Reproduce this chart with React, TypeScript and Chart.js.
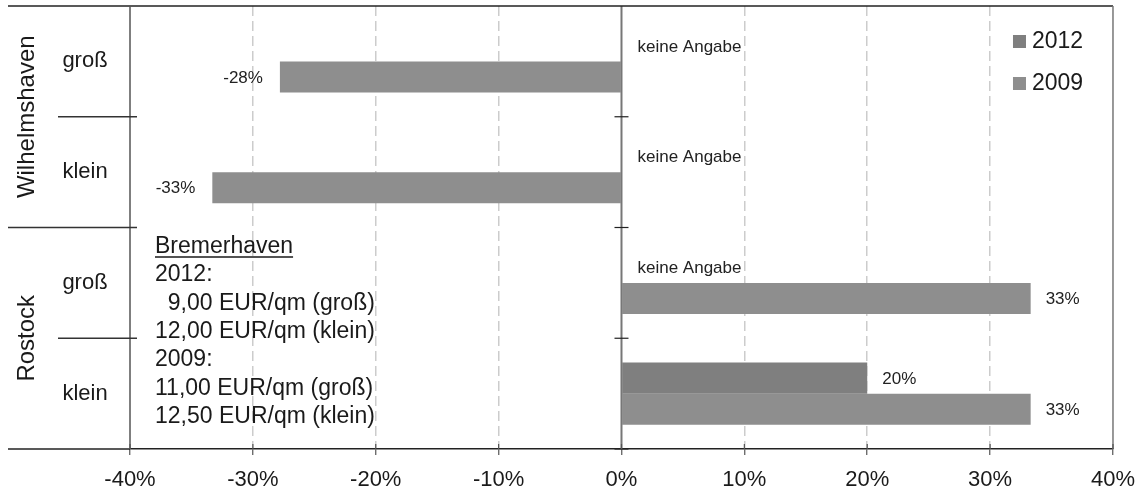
import { useEffect, useRef } from 'react';
import { Chart, registerables } from 'chart.js';

Chart.register(...registerables);

// ---- data ----
const categories = ['groß', 'klein', 'groß', 'klein'];
const groups = ['Wilhelmshaven', 'Rostock'];
const groupSizes = [2, 2];
const seriesLabels = ['2012', '2009'];
const values2012: (number | null)[] = [null, null, null, 20];
const values2009: (number | null)[] = [-27.8, -33.3, 33.3, 33.3];
const xTicks = [-40, -30, -20, -10, 0, 10, 20, 30, 40];
const missingLabel = 'keine Angabe';
const noteTitle = 'Bremerhaven';
const noteLines = [
  '2012:',
  '\u20079,00 EUR/qm (groß)',
  '12,00 EUR/qm (klein)',
  '2009:',
  '11,00 EUR/qm (groß)',
  '12,50 EUR/qm (klein)',
];
const seriesColors = ['#7f7f7f', '#8e8e8e'];

const FONT = '"Liberation Sans", Arial, sans-serif';

function seg(ctx: CanvasRenderingContext2D, x1: number, y1: number, x2: number, y2: number) {
  ctx.beginPath();
  ctx.moveTo(x1, y1);
  ctx.lineTo(x2, y2);
  ctx.stroke();
}

const decorPlugin = {
  id: 'decor',
  afterDatasetsDraw(chart: any) {
    const { ctx, chartArea: a, scales } = chart;
    const x = scales.x;
    const y = scales.y;
    ctx.save();
    // zero axis line
    const x0 = x.getPixelForValue(0);
    ctx.strokeStyle = '#777';
    ctx.lineWidth = 2;
    seg(ctx, x0, a.top, x0, a.bottom);
    const step = y.getPixelForValue(1) - y.getPixelForValue(0);
    ctx.strokeStyle = '#222';
    ctx.lineWidth = 1.2;
    for (let i = 1; i <= categories.length; i++) {
      const by = y.getPixelForValue(i) - step / 2;
      seg(ctx, x0 - 7, by, x0 + 7, by);
    }

    // data labels
    const meta12 = chart.getDatasetMeta(0);
    const meta09 = chart.getDatasetMeta(1);
    ctx.font = `17px ${FONT}`;
    ctx.fillStyle = '#222';
    ctx.textBaseline = 'middle';
    const drawVal = (el: any, v: number | null) => {
      if (v === null || v === undefined) return;
      const txt = Math.round(v) + '%';
      if (v >= 0) {
        ctx.textAlign = 'left';
        ctx.fillText(txt, el.x + 15, el.y + 1);
      } else {
        ctx.textAlign = 'right';
        ctx.fillText(txt, el.x - 17, el.y + 1);
      }
    };
    for (let i = 0; i < categories.length; i++) {
      const el09 = meta09.data[i];
      drawVal(el09, values2009[i]);
      const v12 = values2012[i];
      if (v12 === null) {
        const cy = el09.y - el09.height;
        ctx.textAlign = 'left';
        ctx.fillText(missingLabel, x0 + 16, cy + 1);
      } else {
        drawVal(meta12.data[i], v12);
      }
    }
    ctx.restore();
  },
  afterDraw(chart: any) {
    const { ctx, chartArea: a, scales } = chart;
    const y = scales.y;
    const x = scales.x;
    ctx.save();
    const step = y.getPixelForValue(1) - y.getPixelForValue(0);
    // frame
    ctx.lineWidth = 1.5;
    ctx.strokeStyle = '#222';
    seg(ctx, 8, a.top, a.right, a.top);
    seg(ctx, 8, a.bottom, a.left, a.bottom);
    ctx.strokeStyle = '#777';
    seg(ctx, a.right, a.top, a.right, a.bottom);
    ctx.strokeStyle = '#555';
    seg(ctx, a.left, a.top, a.left, a.bottom);

    // x tick marks crossing the axis
    ctx.strokeStyle = '#555';
    ctx.lineWidth = 1.2;
    xTicks.forEach((v) => {
      const px = x.getPixelForValue(v);
      seg(ctx, px, a.bottom - 5, px, a.bottom);
    });

    // category separators
    ctx.strokeStyle = '#333';
    ctx.lineWidth = 1.5;
    let groupStart = 0;
    const groupBounds = new Set<number>();
    groupSizes.forEach((s) => {
      groupStart += s;
      groupBounds.add(groupStart);
    });
    for (let i = 1; i < categories.length; i++) {
      const by = y.getPixelForValue(i) - step / 2;
      const x1 = groupBounds.has(i) ? 8 : 58;
      seg(ctx, x1, by, a.left + 7, by);
    }

    // category labels
    ctx.fillStyle = '#1a1a1a';
    ctx.font = `22px ${FONT}`;
    ctx.textAlign = 'center';
    ctx.textBaseline = 'middle';
    categories.forEach((c, i) => {
      ctx.fillText(c, 85, y.getPixelForValue(i));
    });
    // group labels
    ctx.font = `24px ${FONT}`;
    let start = 0;
    groups.forEach((g, gi) => {
      const first = y.getPixelForValue(start) - step / 2;
      const last = y.getPixelForValue(start + groupSizes[gi] - 1) + step / 2;
      const cy = (first + last) / 2;
      ctx.save();
      ctx.translate(27, cy);
      ctx.rotate(-Math.PI / 2);
      ctx.fillText(g, 0, 0);
      ctx.restore();
      start += groupSizes[gi];
    });

    // note text block
    ctx.font = `23px ${FONT}`;
    ctx.textAlign = 'left';
    ctx.textBaseline = 'alphabetic';
    const nx = a.left + 25;
    let by = 253;
    ctx.fillText(noteTitle, nx, by);
    const w = ctx.measureText(noteTitle).width;
    ctx.strokeStyle = '#1a1a1a';
    ctx.lineWidth = 1.3;
    seg(ctx, nx, by + 4, nx + w, by + 4);
    noteLines.forEach((l) => {
      by += 28.3;
      ctx.fillText(l, nx, by);
    });

    // legend
    ctx.font = `23px ${FONT}`;
    ctx.textBaseline = 'middle';
    const lx = a.right - 100;
    chart.data.datasets.forEach((ds: any, i: number) => {
      const ly = 41 + i * 42;
      ctx.fillStyle = ds.backgroundColor;
      ctx.fillRect(lx, ly - 6, 13, 13);
      ctx.fillStyle = '#1a1a1a';
      ctx.fillText(ds.label, lx + 19, ly + 1);
    });
    ctx.restore();
  },
};

export default function App() {
  const ref = useRef<HTMLCanvasElement | null>(null);
  useEffect(() => {
    document.body.style.margin = '0';
    const canvas = ref.current;
    if (!canvas) return;
    const chart = new Chart(canvas, {
      type: 'bar',
      data: {
        labels: categories,
        datasets: [
          { label: seriesLabels[0], data: values2012, backgroundColor: seriesColors[0] },
          { label: seriesLabels[1], data: values2009, backgroundColor: seriesColors[1] },
        ],
      },
      options: {
        indexAxis: 'y',
        responsive: false,
        animation: false,
        devicePixelRatio: 1,
        layout: { padding: { left: 130, right: 34, top: 6, bottom: 0 } },
        datasets: { bar: { categoryPercentage: 0.56, barPercentage: 1 } },
        plugins: { legend: { display: false }, tooltip: { enabled: false } },
        scales: {
          y: { type: 'category', display: false, offset: true },
          x: {
            type: 'linear',
            min: -40,
            max: 40,
            afterBuildTicks: (s: any) => {
              s.ticks = xTicks.map((v) => ({ value: v }));
            },
            afterFit: (s: any) => {
              s.height = 44;
            },
            ticks: {
              callback: (v: any) => v + '%',
              font: { size: 22, family: FONT },
              color: '#1a1a1a',
              padding: 12,
              maxRotation: 0,
              autoSkip: false,
            },
            grid: {
              color: (c: any) => {
                const v = c.tick && c.tick.value;
                return v === -40 || v === 0 || v === 40 ? 'rgba(0,0,0,0)' : '#cccccc';
              },
              lineWidth: 1.5,
              tickColor: '#555',
              tickLength: 6,
              tickWidth: 1.2,
            },
            border: { display: true, color: '#222', width: 1.5, dash: [10, 5] },
          },
        },
      } as any,
      plugins: [decorPlugin],
    });
    return () => chart.destroy();
  }, []);
  return <canvas ref={ref} width={1147} height={493} style={{ display: 'block' }} />;
}
